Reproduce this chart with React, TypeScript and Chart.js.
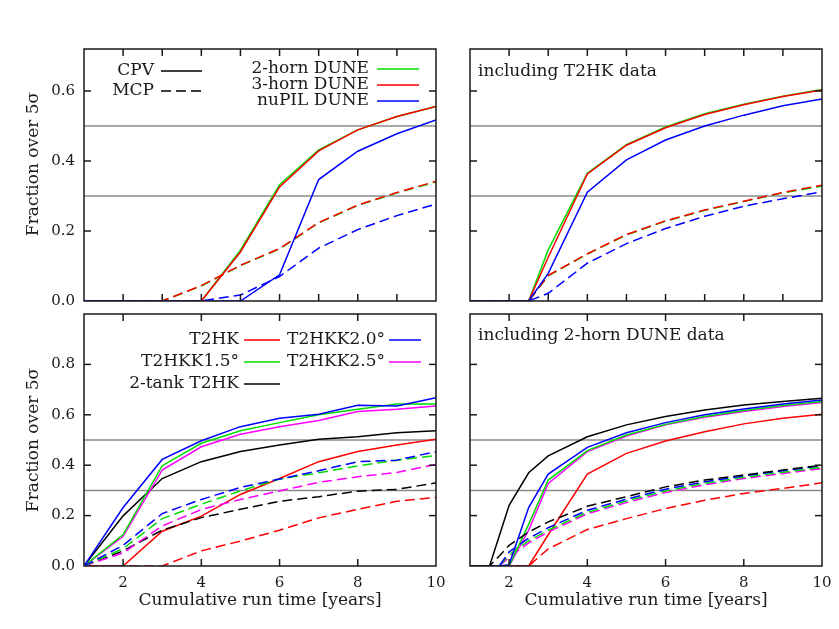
import React, { useEffect, useRef } from 'react';
import { Chart, registerables } from 'chart.js';
Chart.register(...registerables);

// ---------------- data ----------------
const YEARS = [1, 2, 3, 4, 5, 6, 7, 8, 9, 10];
const YEARS_WITH_T2HK = [1, 2, 2.5, 3, 4, 5, 6, 7, 8, 9, 10];
const YEARS_WITH_DUNE = [1, 1.5, 1.75, 2, 2.5, 3, 4, 5, 6, 7, 8, 9, 10];

// top-left: DUNE alone
const dune2CPV = [0, 0, 0, 0, 0.145, 0.332, 0.432, 0.489, 0.527, 0.556];
const dune3CPV = [0, 0, 0, 0, 0.14, 0.326, 0.429, 0.489, 0.527, 0.556];
const nupilCPV = [0, 0, 0, 0, 0, 0.075, 0.347, 0.428, 0.478, 0.517];
const dune2MCP = [0, 0, 0, 0.043, 0.101, 0.149, 0.223, 0.273, 0.309, 0.34];
const dune3MCP = [0, 0, 0, 0.044, 0.102, 0.15, 0.224, 0.274, 0.31, 0.342];
const nupilMCP = [0, 0, 0, 0, 0.017, 0.07, 0.151, 0.204, 0.244, 0.277];

// top-right: DUNE + T2HK
const dune2CPV_T = [0, 0, 0, 0.146, 0.365, 0.447, 0.497, 0.535, 0.562, 0.585, 0.604];
const dune3CPV_T = [0, 0, 0, 0.125, 0.363, 0.445, 0.495, 0.533, 0.561, 0.584, 0.603];
const nupilCPV_T = [0, 0, 0, 0.079, 0.311, 0.403, 0.46, 0.5, 0.531, 0.558, 0.577];
const dune2MCP_T = [0, 0, 0, 0.072, 0.134, 0.189, 0.228, 0.259, 0.284, 0.309, 0.328];
const dune3MCP_T = [0, 0, 0, 0.073, 0.135, 0.19, 0.229, 0.26, 0.285, 0.31, 0.331];
const nupilMCP_T = [0, 0, 0, 0.022, 0.108, 0.164, 0.207, 0.242, 0.271, 0.292, 0.312];

// bottom-left: T2HK variants alone
const t2hkCPV = [0, 0, 0.138, 0.198, 0.284, 0.347, 0.414, 0.454, 0.48, 0.503];
const t2hkk15CPV = [0, 0.125, 0.398, 0.487, 0.537, 0.569, 0.6, 0.622, 0.643, 0.643];
const t2hkk20CPV = [0, 0.232, 0.423, 0.497, 0.553, 0.586, 0.602, 0.638, 0.635, 0.668];
const t2hkk25CPV = [0, 0.118, 0.381, 0.473, 0.523, 0.553, 0.577, 0.613, 0.622, 0.635];
const tank2CPV = [0, 0.199, 0.347, 0.414, 0.454, 0.48, 0.503, 0.513, 0.529, 0.537];
const t2hkMCP = [0, 0, 0, 0.06, 0.099, 0.142, 0.191, 0.225, 0.257, 0.272];
const t2hkk15MCP = [0, 0.069, 0.188, 0.245, 0.298, 0.345, 0.37, 0.397, 0.42, 0.438];
const t2hkk20MCP = [0, 0.082, 0.208, 0.264, 0.312, 0.345, 0.378, 0.414, 0.42, 0.454];
const t2hkk25MCP = [0, 0.052, 0.159, 0.224, 0.264, 0.298, 0.332, 0.354, 0.371, 0.403];
const tank2MCP = [0, 0.06, 0.142, 0.192, 0.225, 0.257, 0.275, 0.297, 0.304, 0.33];

// bottom-right: T2HK variants + 2-horn DUNE
const t2hkCPV_D = [0, 0, 0, 0, 0, 0.124, 0.365, 0.447, 0.496, 0.533, 0.564, 0.586, 0.602];
const t2hkk15CPV_D = [0, 0, 0, 0, 0.165, 0.341, 0.458, 0.52, 0.562, 0.593, 0.617, 0.637, 0.653];
const t2hkk20CPV_D = [0, 0, 0, 0.005, 0.232, 0.365, 0.471, 0.529, 0.569, 0.6, 0.623, 0.643, 0.659];
const t2hkk25CPV_D = [0, 0, 0, 0, 0.142, 0.328, 0.454, 0.516, 0.56, 0.59, 0.613, 0.633, 0.649];
const tank2CPV_D = [0, 0, 0.12, 0.241, 0.37, 0.437, 0.513, 0.56, 0.593, 0.619, 0.639, 0.653, 0.666];
const t2hkMCP_D = [0, 0, 0, 0, 0, 0.068, 0.145, 0.188, 0.228, 0.261, 0.288, 0.308, 0.33];
const t2hkk15MCP_D = [0, 0, 0, 0.045, 0.1, 0.142, 0.213, 0.258, 0.298, 0.328, 0.352, 0.372, 0.392];
const t2hkk20MCP_D = [0, 0, 0, 0.056, 0.11, 0.152, 0.221, 0.265, 0.305, 0.334, 0.358, 0.378, 0.398];
const t2hkk25MCP_D = [0, 0, 0, 0.035, 0.092, 0.135, 0.207, 0.252, 0.292, 0.322, 0.347, 0.367, 0.387];
const tank2MCP_D = [0, 0, 0.04, 0.082, 0.135, 0.175, 0.237, 0.275, 0.314, 0.341, 0.361, 0.381, 0.4];

const THRESHOLDS = [0.5, 0.3];
const X_RANGE = [1, 10];
const X_MINOR_TICKS = [2, 3, 4, 5, 6, 7, 8, 9];
const X_MAJOR_TICKS = [2, 4, 6, 8];
const X_TICK_LABELS = [2, 4, 6, 8, 10];
const Y_TICKS_TOP = [0, 0.2, 0.4, 0.6];
const Y_TICKS_BOTTOM = [0, 0.2, 0.4, 0.6, 0.8];
const Y_MAX_TOP = 0.72;
const Y_MAX_BOTTOM = 1.0;

const DUNE_LABELS = ['2-horn DUNE', '3-horn DUNE', 'nuPIL DUNE'];
const KIND_LABELS = ['CPV', 'MCP'];
const T2HK_LABELS = ['T2HK', 'T2HKK2.0°', 'T2HKK1.5°', 'T2HKK2.5°', '2-tank T2HK'];
const NOTE_T2HK = 'including T2HK data';
const NOTE_DUNE = 'including 2-horn DUNE data';
const X_TITLE = 'Cumulative run time [years]';
const Y_TITLE = 'Fraction over 5σ';

// ---------------- styles ----------------
const GREEN = '#00dd00';
const RED = '#ff0000';
const BLUE = '#0000ff';
const MAGENTA = '#ff00ff';
const BLACK = '#000000';
const GRAY = '#8a8a8a';
const INK = '#1a1a1a';
const FONT = '"DejaVu Serif", serif';
const DASH = [10, 5];

Chart.defaults.font.family = FONT;

type Series = { color: string; x: number[]; cpv: number[]; mcp: number[] };

function pts(xs: number[], ys: number[]) {
  return xs.map((x, i) => ({ x, y: ys[i] }));
}

function buildDatasets(series: Series[]) {
  const ds: any[] = [];
  for (const s of series) {
    ds.push({
      data: pts(s.x, s.cpv), borderColor: s.color, borderWidth: 1.5,
      pointRadius: 0, fill: false, tension: 0,
    });
    ds.push({
      data: pts(s.x, s.mcp), borderColor: s.color, borderWidth: 1.5,
      borderDash: DASH, pointRadius: 0, fill: false, tension: 0,
    });
  }
  for (const t of THRESHOLDS) {
    ds.push({
      data: X_RANGE.map((x) => ({ x, y: t })), borderColor: GRAY, borderWidth: 1.5,
      pointRadius: 0, fill: false,
    });
  }
  return ds;
}

const decorPlugin = {
  id: 'decor',
  afterDatasetsDraw(chart: any, _args: any, opts: any) {
    const { ctx, chartArea: a, scales } = chart;
    ctx.save();
    ctx.strokeStyle = INK;
    ctx.lineWidth = 1.5;
    ctx.setLineDash([]);
    ctx.strokeRect(a.left, a.top, a.right - a.left, a.bottom - a.top);
    const L = 7;
    const seg = (x0: number, y0: number, x1: number, y1: number) => {
      ctx.beginPath(); ctx.moveTo(x0, y0); ctx.lineTo(x1, y1); ctx.stroke();
    };
    for (const v of opts.xTicks) {
      const px = scales.x.getPixelForValue(v);
      seg(px, a.bottom, px, a.bottom - L);
      seg(px, a.top, px, a.top + L);
    }
    for (const v of opts.yTicks) {
      const py = scales.y.getPixelForValue(v);
      seg(a.left, py, a.left + L, py);
      seg(a.right, py, a.right - L, py);
    }
    ctx.font = '17px ' + FONT;
    ctx.fillStyle = INK;
    ctx.textBaseline = 'middle';
    for (const it of opts.legend || []) {
      ctx.textAlign = 'right';
      ctx.fillText(it.text, it.textRight, it.y);
      ctx.strokeStyle = it.color;
      ctx.lineWidth = 1.5;
      ctx.setLineDash(it.dashed ? DASH : []);
      seg(it.x0, it.y, it.x1, it.y);
    }
    ctx.setLineDash([]);
    if (opts.note) {
      ctx.textAlign = 'left';
      ctx.fillStyle = INK;
      ctx.fillText(opts.note, a.left + 8, a.top + opts.noteDy);
    }
    if (opts.yTitle) {
      ctx.save();
      ctx.translate(opts.yTitleX, (a.top + a.bottom) / 2 + opts.yTitleDy);
      ctx.rotate(-Math.PI / 2);
      ctx.textAlign = 'center';
      ctx.fillStyle = INK;
      ctx.fillText(opts.yTitle, 0, 0);
      ctx.restore();
    }
    ctx.restore();
  },
};

type PanelSpec = {
  series: Series[];
  yMax: number;
  yTicks: number[];
  xTicks: number[];
  showXLabels: boolean;
  showYLabels: boolean;
  yAxisWidth: number;
  xAxisHeight: number;
  padTop: number;
  padRight: number;
  yTitleDy?: number;
  legend?: any[];
  note?: string;
  noteDy?: number;
};

function buildConfig(p: PanelSpec): any {
  return {
    type: 'line',
    data: { datasets: buildDatasets(p.series) },
    plugins: [decorPlugin],
    options: {
      animation: false,
      responsive: false,
      maintainAspectRatio: false,
      layout: { padding: { left: 0, top: p.padTop, right: p.padRight, bottom: 0 } },
      plugins: {
        legend: { display: false },
        tooltip: { enabled: false },
        decor: {
          xTicks: p.xTicks, yTicks: p.yTicks.filter((v) => v > 0), legend: p.legend,
          note: p.note, noteDy: p.noteDy,
          yTitle: p.showYLabels ? Y_TITLE : null, yTitleX: 34, yTitleDy: p.yTitleDy || 0,
        },
      },
      scales: {
        x: {
          type: 'linear', min: X_RANGE[0], max: X_RANGE[1],
          grid: { display: false, drawTicks: false },
          border: { display: false },
          ticks: {
            display: p.showXLabels, autoSkip: false, maxRotation: 0, padding: 8,
            color: INK, font: { size: 15, family: FONT },
          },
          title: {
            display: p.showXLabels, text: X_TITLE, color: INK,
            font: { size: 17, family: FONT }, padding: { top: 0, bottom: 18 },
          },
          afterBuildTicks: (s: any) => { s.ticks = X_TICK_LABELS.map((v) => ({ value: v })); },
          afterFit: (s: any) => { s.height = p.xAxisHeight; s.paddingLeft = 0; s.paddingRight = 0; },
        },
        y: {
          type: 'linear', min: 0, max: p.yMax,
          grid: { display: false, drawTicks: false },
          border: { display: false },
          ticks: {
            display: p.showYLabels, autoSkip: false, padding: 9, color: INK,
            font: { size: 15, family: FONT },
            callback: (v: any) => Number(v).toFixed(1),
          },
          afterBuildTicks: (s: any) => { s.ticks = p.yTicks.map((v) => ({ value: v })); },
          afterFit: (s: any) => { s.width = p.yAxisWidth; s.paddingTop = 0; s.paddingBottom = 0; },
        },
      },
    },
  };
}

// ---------------- panels ----------------
const topLeft: PanelSpec = {
  series: [
    { color: BLUE, x: YEARS, cpv: nupilCPV, mcp: nupilMCP },
    { color: RED, x: YEARS, cpv: dune3CPV, mcp: dune3MCP },
    { color: GREEN, x: YEARS, cpv: dune2CPV, mcp: dune2MCP },
  ],
  yMax: Y_MAX_TOP, yTicks: Y_TICKS_TOP, xTicks: X_MINOR_TICKS,
  showXLabels: false, showYLabels: true, yAxisWidth: 84, xAxisHeight: 11, padTop: 49, padRight: 19,
  yTitleDy: -11,
  legend: [
    { text: KIND_LABELS[0], color: BLACK, dashed: false, textRight: 154, x0: 161, x1: 202, y: 71 },
    { text: KIND_LABELS[1], color: BLACK, dashed: true, textRight: 154, x0: 161, x1: 202, y: 91 },
    { text: DUNE_LABELS[0], color: GREEN, dashed: false, textRight: 369, x0: 377, x1: 419, y: 69 },
    { text: DUNE_LABELS[1], color: RED, dashed: false, textRight: 369, x0: 377, x1: 419, y: 85 },
    { text: DUNE_LABELS[2], color: BLUE, dashed: false, textRight: 369, x0: 377, x1: 419, y: 101 },
  ],
};

const topRight: PanelSpec = {
  series: [
    { color: BLUE, x: YEARS_WITH_T2HK, cpv: nupilCPV_T, mcp: nupilMCP_T },
    { color: RED, x: YEARS_WITH_T2HK, cpv: dune3CPV_T, mcp: dune3MCP_T },
    { color: GREEN, x: YEARS_WITH_T2HK, cpv: dune2CPV_T, mcp: dune2MCP_T },
  ],
  yMax: Y_MAX_TOP, yTicks: Y_TICKS_TOP, xTicks: X_MINOR_TICKS,
  showXLabels: false, showYLabels: false, yAxisWidth: 30, xAxisHeight: 11, padTop: 49, padRight: 17,
  note: NOTE_T2HK, noteDy: 23,
};

const bottomLeft: PanelSpec = {
  series: [
    { color: BLUE, x: YEARS, cpv: t2hkk20CPV, mcp: t2hkk20MCP },
    { color: GREEN, x: YEARS, cpv: t2hkk15CPV, mcp: t2hkk15MCP },
    { color: MAGENTA, x: YEARS, cpv: t2hkk25CPV, mcp: t2hkk25MCP },
    { color: BLACK, x: YEARS, cpv: tank2CPV, mcp: tank2MCP },
    { color: RED, x: YEARS, cpv: t2hkCPV, mcp: t2hkMCP },
  ],
  yMax: Y_MAX_BOTTOM, yTicks: Y_TICKS_BOTTOM, xTicks: X_MAJOR_TICKS,
  showXLabels: true, showYLabels: true, yAxisWidth: 84, xAxisHeight: 63, padTop: 4, padRight: 19,
  yTitleDy: 0,
  legend: [
    { text: T2HK_LABELS[0], color: RED, dashed: false, textRight: 239, x0: 244, x1: 280, y: 30 },
    { text: T2HK_LABELS[1], color: BLUE, dashed: false, textRight: 385, x0: 389, x1: 421, y: 30 },
    { text: T2HK_LABELS[2], color: GREEN, dashed: false, textRight: 239, x0: 244, x1: 280, y: 52 },
    { text: T2HK_LABELS[3], color: MAGENTA, dashed: false, textRight: 385, x0: 389, x1: 421, y: 52 },
    { text: T2HK_LABELS[4], color: BLACK, dashed: false, textRight: 239, x0: 244, x1: 280, y: 74 },
  ],
};

const bottomRight: PanelSpec = {
  series: [
    { color: BLACK, x: YEARS_WITH_DUNE, cpv: tank2CPV_D, mcp: tank2MCP_D },
    { color: BLUE, x: YEARS_WITH_DUNE, cpv: t2hkk20CPV_D, mcp: t2hkk20MCP_D },
    { color: GREEN, x: YEARS_WITH_DUNE, cpv: t2hkk15CPV_D, mcp: t2hkk15MCP_D },
    { color: MAGENTA, x: YEARS_WITH_DUNE, cpv: t2hkk25CPV_D, mcp: t2hkk25MCP_D },
    { color: RED, x: YEARS_WITH_DUNE, cpv: t2hkCPV_D, mcp: t2hkMCP_D },
  ],
  yMax: Y_MAX_BOTTOM, yTicks: Y_TICKS_BOTTOM, xTicks: X_MAJOR_TICKS,
  showXLabels: true, showYLabels: false, yAxisWidth: 30, xAxisHeight: 63, padTop: 4, padRight: 17,
  note: NOTE_DUNE, noteDy: 22,
};

function Panel(props: { spec: PanelSpec; left: number; top: number; width: number; height: number }) {
  const ref = useRef<HTMLCanvasElement>(null);
  useEffect(() => {
    const chart = new Chart(ref.current as HTMLCanvasElement, buildConfig(props.spec));
    return () => chart.destroy();
  }, []);
  return (
    <canvas
      ref={ref}
      width={props.width}
      height={props.height}
      style={{ position: 'absolute', left: props.left, top: props.top, width: props.width, height: props.height }}
    />
  );
}

export default function App() {
  return (
    <div style={{ position: 'absolute', left: 0, top: 0, width: 839, height: 629, background: '#ffffff', overflow: 'hidden' }}>
      <Panel spec={topLeft} left={0} top={0} width={455} height={312} />
      <Panel spec={topRight} left={440} top={0} width={399} height={312} />
      <Panel spec={bottomLeft} left={0} top={310} width={455} height={319} />
      <Panel spec={bottomRight} left={440} top={310} width={399} height={319} />
    </div>
  );
}
